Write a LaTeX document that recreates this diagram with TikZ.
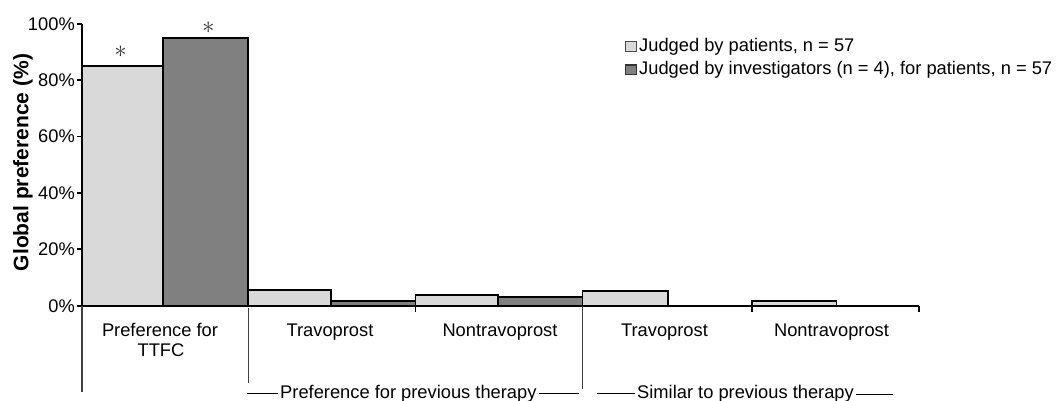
\documentclass[tikz,border=0pt]{standalone}
\usepackage{fontspec}
\setmainfont{Liberation Sans}
\definecolor{lightfill}{HTML}{D9D9D9}
\definecolor{darkfill}{HTML}{808080}
\definecolor{sepline}{HTML}{404040}
\begin{document}
\begin{tikzpicture}[x=1pt,y=-1pt,
  lbl/.style={font=\fontsize{18.3}{20}\selectfont, inner sep=0pt},
  lightbar/.style={fill=lightfill, draw=black, line width=1.8pt},
  darkbar/.style={fill=darkfill, draw=black, line width=1.8pt},
  axisline/.style={draw=black, line width=1.7pt},
  sepstyle/.style={draw=sepline, line width=1.5pt},
  dashline/.style={draw=black, line width=1.3pt},
  ast/.style={font=\fontsize{23}{23}\selectfont, inner sep=0pt, text=black!80}]
\useasboundingbox (0,0) rectangle (1061,400);
% bars
\draw[lightbar] (82,305.7) rectangle (163.3,{305.7-2.82*85});
\draw[darkbar] (163.3,305.7) rectangle (248.3,{305.7-2.82*95});
\draw[lightbar] (248.3,305.7) rectangle (331,{305.7-2.82*5.6});
\draw[darkbar] (331,305.7) rectangle (415.5,{305.7-2.82*1.8});
\draw[lightbar] (415.5,305.7) rectangle (498.3,{305.7-2.82*3.8});
\draw[darkbar] (498.3,305.7) rectangle (582.5,{305.7-2.82*3.2});
\draw[lightbar] (582.5,305.7) rectangle (668.3,{305.7-2.82*5.1});
\draw[lightbar] (752,305.7) rectangle (836.5,{305.7-2.82*1.8});
% asterisks
\node[ast] (a1) at (120.7,51.7) {$\ast$};
\node[ast] (a2) at (208.3,27.7) {$\ast$};
% y axis
\draw[axisline] (82,305.7) -- (82,23.5);
\foreach \p in {0,20,40,60,80,100} {
  \draw[axisline] (77,{305.7-2.82*\p}) -- (82,{305.7-2.82*\p});
  \node[lbl, anchor=east] at (75,{305.7-2.82*\p}) {\p\%};
}
% x axis
\draw[axisline] (82,305.7) -- (919,305.7);
\foreach \x in {415.5,752,919} {
  \draw[axisline] (\x,305.7) -- (\x,311.5);
}
% separator lines below axis
\draw[sepstyle] (82,305.7) -- (82,391.7);
\draw[sepstyle] (248.3,308) -- (248.3,382.7);
\draw[sepstyle] (582.5,306) -- (582.5,389.3);
% y label
\node[font=\bfseries\fontsize{21}{22}\selectfont, inner sep=0pt, rotate=90] (ylab) at (23,162.5) {Global preference (\%)};
% category labels
\node[lbl, anchor=base] (c1a) at (160,336.7) {Preference for};
\node[lbl, anchor=base] (c1b) at (161,356.7) {TTFC};
\node[lbl, anchor=base] (c2) at (330,336.7) {Travoprost};
\node[lbl, anchor=base] (c3) at (500,336.7) {Nontravoprost};
\node[lbl, anchor=base] (c4) at (664.5,336.7) {Travoprost};
\node[lbl, anchor=base] (c5) at (831.5,336.7) {Nontravoprost};
% group labels
\node[lbl, anchor=base west] (g1) at (280,398.3) {Preference for previous therapy};
\draw[dashline] ([xshift=-2pt,yshift=5pt]g1.base west) -- ++(-31.3,0);
\draw[dashline] ([xshift=2pt,yshift=5pt]g1.base east) -- ++(40,0);
\node[lbl, anchor=base west] (g2) at (637,398.3) {Similar to previous therapy};
\draw[dashline] ([xshift=-2pt,yshift=5pt]g2.base west) -- ++(-38.5,0);
\draw[dashline] ([xshift=2pt,yshift=4pt]g2.base east) -- ++(37,0);
% legend
\draw[fill=lightfill, draw=black!70, line width=1.2pt] (625.5,41.7) rectangle (636.2,51.5);
\node[lbl, anchor=base west] (l1) at (639,51) {Judged by patients, n = 57};
\draw[fill=darkfill, draw=black!80, line width=1.2pt] (625.5,65) rectangle (636.2,74.8);
\node[lbl, anchor=base west] (l2) at (639,74.5) {Judged by investigators (n = 4), for patients, n = 57};
\end{tikzpicture}
\end{document}
